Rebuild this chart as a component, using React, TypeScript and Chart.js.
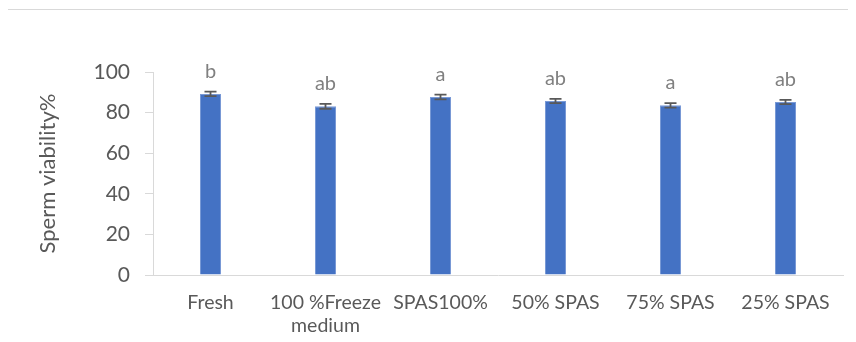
import React, { useEffect, useRef } from "react";
import { Chart, registerables } from "chart.js";

Chart.register(...registerables);

const categories: (string | string[])[] = [
  "Fresh",
  ["100 %Freeze", "medium"],
  "SPAS100%",
  "50% SPAS",
  "75% SPAS",
  "25% SPAS",
];
const viability = [89.2, 83.1, 87.7, 85.7, 83.6, 85.2];
const errors = [1.1, 1.2, 1.15, 1.05, 1.1, 1.05];
const letters = ["b", "ab", "a", "ab", "a", "ab"];
const yTicks = [0, 20, 40, 60, 80, 100];

const FONT = "Lato, 'Open Sans', sans-serif";

const errorBarPlugin = {
  id: "errorBars",
  afterDatasetsDraw(chart: any) {
    const ctx = chart.ctx;
    const xScale = chart.scales.x;
    const yScale = chart.scales.y;
    ctx.save();
    viability.forEach((v, i) => {
      const x = xScale.getPixelForValue(i);
      const yTop = yScale.getPixelForValue(v + errors[i]);
      const yBot = yScale.getPixelForValue(v - errors[i]);
      ctx.strokeStyle = "#595959";
      ctx.lineWidth = 1.8;
      ctx.beginPath();
      ctx.moveTo(x, yTop);
      ctx.lineTo(x, yBot);
      ctx.moveTo(x - 6, yTop);
      ctx.lineTo(x + 6, yTop);
      ctx.moveTo(x - 6, yBot);
      ctx.lineTo(x + 6, yBot);
      ctx.stroke();
      ctx.fillStyle = "#808080";
      ctx.font = `20px ${FONT}`;
      ctx.textAlign = "center";
      ctx.textBaseline = "alphabetic";
      ctx.fillText(letters[i], x, yTop - 14);
    });
    ctx.restore();
  },
};

export default function App() {
  const ref = useRef<HTMLCanvasElement>(null);
  useEffect(() => {
    if (!ref.current) return;
    const chart = new Chart(ref.current, {
      type: "bar",
      data: {
        labels: categories,
        datasets: [
          {
            data: viability,
            backgroundColor: "#4472C4",
            borderColor: "#7a9ad6",
            borderWidth: 1,
            categoryPercentage: 1,
            barPercentage: 0.183,
          },
        ],
      },
      options: {
        animation: false,
        responsive: false,
        maintainAspectRatio: false,
        layout: { padding: { left: 0, top: 64, right: 13, bottom: 0 } },
        plugins: { legend: { display: false }, tooltip: { enabled: false } },
        scales: {
          x: {
            grid: { display: false, drawTicks: false },
            border: { display: true, color: "#d9d9d9", width: 1 },
            ticks: {
              color: "#595959",
              font: { family: FONT, size: 19.5 },
              padding: 16,
              maxRotation: 0,
              autoSkip: false,
            },
            afterFit: (s: any) => {
              s.height = 334 - 267;
            },
          },
          y: {
            min: 0,
            max: 100,
            afterBuildTicks: (s: any) => {
              s.ticks = yTicks.map((v) => ({ value: v }));
            },
            grid: {
              display: true,
              drawOnChartArea: false,
              drawTicks: true,
              tickLength: 8,
              color: "#d9d9d9",
            },
            border: { display: true, color: "#d9d9d9", width: 1 },
            ticks: {
              color: "#595959",
              font: { family: FONT, size: 21 },
              padding: 15,
            },
            title: {
              display: true,
              text: "Sperm viability%",
              color: "#595959",
              font: { family: FONT, size: 22 },
              padding: { top: 27, bottom: 0 },
            },
            afterFit: (s: any) => {
              s.width = 145;
            },
          },
        },
      },
      plugins: [errorBarPlugin],
    });
    return () => chart.destroy();
  }, []);

  return (
    <div style={{ position: "relative", width: 848, height: 334, overflow: "hidden" }}>
      <div
        style={{
          position: "absolute",
          left: -1,
          top: 1,
          width: 900,
          height: 400,
          borderTop: "1px solid #d9d9d9",
          borderLeft: "1px solid #d9d9d9",
        }}
      />
      <canvas
        ref={ref}
        width={848}
        height={334}
        style={{ position: "absolute", left: 0, top: 0, width: 848, height: 334 }}
      />
    </div>
  );
}
